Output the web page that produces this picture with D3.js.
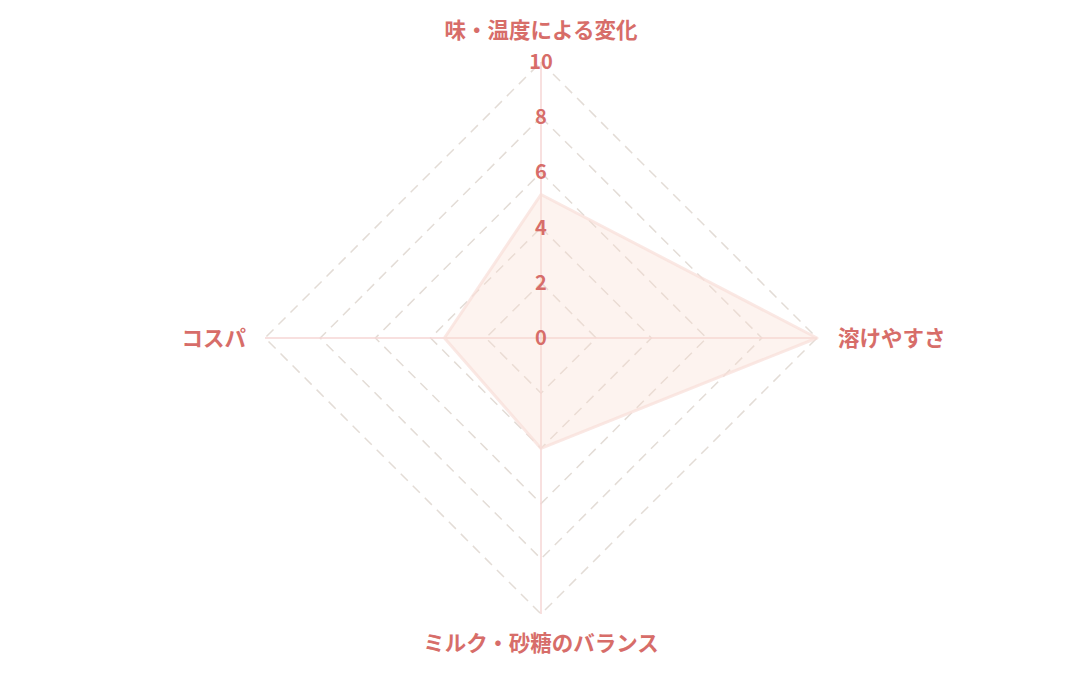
<!DOCTYPE html>
<html>
<head>
<meta charset="utf-8">
<script src="https://cdn.jsdelivr.net/npm/d3@7"></script>
<style>
  body { margin: 0; background: #fff; }
  text { font-family: "Noto Sans CJK JP", sans-serif; font-weight: 700; }
</style>
</head>
<body>
<script>
// radar chart, 4 axes, scale 0-10
var labels = ["味・温度による変化", "溶けやすさ", "ミルク・砂糖のバランス", "コスパ"];
var values = [5.2, 10, 4, 3.5];
var ticks = [0, 2, 4, 6, 8, 10];

var w = 1080, h = 675;
var cx = 541, cy = 338, R = 276;
var red = "#d76d69";

var r = d3.scaleLinear().domain([0, 10]).range([0, R]);
var angle = function(i) { return -Math.PI / 2 + i * 2 * Math.PI / labels.length; };
var pt = function(i, v) { return [cx + r(v) * Math.cos(angle(i)), cy + r(v) * Math.sin(angle(i))]; };

var svg = d3.select("body").append("svg")
            .attr("width", w)
            .attr("height", h);

// dashed grid
svg.selectAll("polygon.grid")
   .data(ticks.slice(1))
   .enter().append("polygon")
   .attr("class", "grid")
   .attr("points", function(t) { return labels.map(function(d, i) { return pt(i, t).join(","); }).join(" "); })
   .attr("fill", "none")
   .attr("stroke", "#e3dcd6")
   .attr("stroke-width", 1.5)
   .attr("stroke-dasharray", "10,7");

// angle lines
svg.selectAll("line.axis")
   .data(labels)
   .enter().append("line")
   .attr("class", "axis")
   .attr("x1", cx).attr("y1", cy)
   .attr("x2", function(d, i) { return pt(i, 10)[0]; })
   .attr("y2", function(d, i) { return pt(i, 10)[1]; })
   .attr("stroke", "#f6d6d4")
   .attr("stroke-width", 1.5);

// data area
svg.append("polygon")
   .attr("points", values.map(function(v, i) { return pt(i, v).join(","); }).join(" "))
   .attr("fill", "rgba(250, 220, 210, 0.35)")
   .attr("stroke", "rgba(248, 222, 216, 0.7)")
   .attr("stroke-width", 3)
   .attr("stroke-linejoin", "round");

// tick labels
svg.selectAll("text.tick")
   .data(ticks)
   .enter().append("text")
   .attr("class", "tick")
   .attr("x", cx)
   .attr("y", function(t) { return cy - r(t); })
   .attr("dy", "0.35em")
   .attr("text-anchor", "middle")
   .attr("fill", red)
   .attr("font-size", 20)
   .text(function(t) { return t; });

// point labels
var lab = [
  { x: cx, y: 30, anchor: "middle" },
  { x: 838, y: cy, anchor: "start" },
  { x: cx, y: 643, anchor: "middle" },
  { x: 246, y: cy, anchor: "end" }
];
svg.selectAll("text.label")
   .data(labels)
   .enter().append("text")
   .attr("class", "label")
   .attr("x", function(d, i) { return lab[i].x; })
   .attr("y", function(d, i) { return lab[i].y; })
   .attr("dy", "0.35em")
   .attr("text-anchor", function(d, i) { return lab[i].anchor; })
   .attr("fill", red)
   .attr("font-size", 21.5)
   .text(function(d) { return d; });
</script>
</body>
</html>
